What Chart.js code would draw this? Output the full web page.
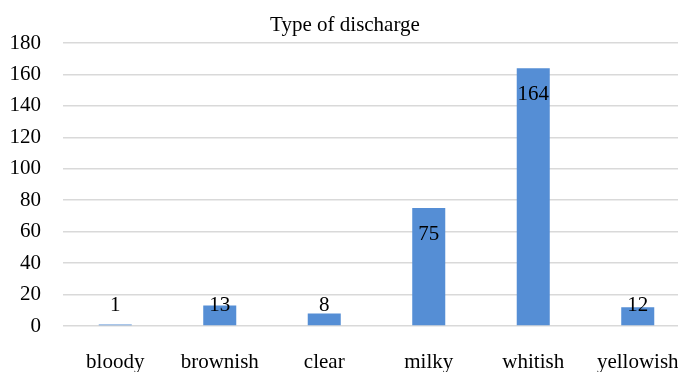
<!DOCTYPE html>
<html>
<head>
<meta charset="utf-8">
<script src="https://cdn.jsdelivr.net/npm/chart.js@4"></script>
<style>
  html, body { margin: 0; padding: 0; background: #fff; overflow: hidden; }
  #wrap { position: absolute; left: 0; top: 0; width: 700px; height: 372px; }
</style>
</head>
<body>
<div id="wrap"><canvas id="c" width="700" height="372"></canvas></div>
<script>
const categories = ['bloody', 'brownish', 'clear', 'milky', 'whitish', 'yellowish'];
const counts = [1, 13, 8, 75, 164, 12];
const yTicks = [0, 20, 40, 60, 80, 100, 120, 140, 160, 180];

const SERIF = "'Liberation Serif', 'Times New Roman', serif";
const FONT_SIZE = 21;

// Value labels: inside the bar end, but kept clear of the baseline for short bars
const valueLabels = {
  id: 'valueLabels',
  afterDatasetsDraw(chart) {
    const ctx = chart.ctx;
    const meta = chart.getDatasetMeta(0);
    const base = chart.scales.y.getPixelForValue(0);
    ctx.save();
    ctx.font = FONT_SIZE + 'px ' + SERIF;
    ctx.fillStyle = '#000';
    ctx.textAlign = 'center';
    ctx.textBaseline = 'middle';
    meta.data.forEach((bar, i) => {
      const y = Math.min(bar.y + 26, base - 21);
      ctx.fillText(String(counts[i]), bar.x, y);
    });
    ctx.restore();
  }
};

new Chart(document.getElementById('c'), {
  type: 'bar',
  data: {
    labels: categories,
    datasets: [{
      data: counts,
      backgroundColor: '#558ed5',
      categoryPercentage: 1,
      barPercentage: 0.316
    }]
  },
  options: {
    responsive: false,
    animation: false,
    layout: { padding: { left: 0, right: 10, top: 0, bottom: 0 } },
    plugins: {
      legend: { display: false },
      tooltip: { enabled: false },
      title: {
        display: true,
        text: 'Type of discharge',
        color: '#000',
        font: { family: SERIF, size: FONT_SIZE, weight: 'normal', lineHeight: 1.2 },
        padding: { top: 12.5, bottom: 5.3 }
      }
    },
    scales: {
      x: {
        grid: { display: false },
        border: { display: false },
        ticks: { color: '#000', font: { family: SERIF, size: FONT_SIZE }, padding: 16, maxRotation: 0 },
        afterFit(s) { s.height = 46; }
      },
      y: {
        min: 0,
        max: 180,
        afterBuildTicks(s) { s.ticks = yTicks.map(v => ({ value: v })); },
        grid: { color: '#d9d9d9', lineWidth: 1.5, drawTicks: false },
        border: { display: false },
        ticks: { color: '#000', font: { family: SERIF, size: FONT_SIZE }, padding: 22 },
        afterFit(s) { s.width = 63; }
      }
    }
  },
  plugins: [valueLabels]
});
</script>
</body>
</html>
